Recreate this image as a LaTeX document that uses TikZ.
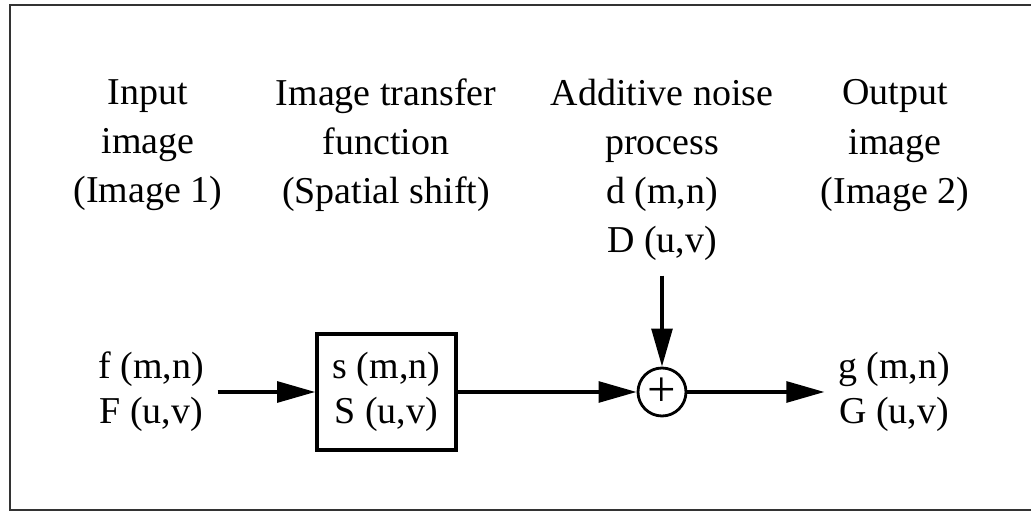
\documentclass[tikz,border=0pt]{standalone}
\usepackage{fontspec}
\setmainfont{Liberation Serif}
\usetikzlibrary{arrows.meta}

\begin{document}
\begin{tikzpicture}[>={Triangle[length=0.95cm, width=0.52cm]}, line width=2.4pt,
  head/.style={font=\fontsize{27}{34.9}\selectfont, align=center, inner sep=0.33cm},
  sig/.style={font=\fontsize{27}{32}\selectfont, align=center, inner sep=0.3cm}]
  \useasboundingbox (0,0) rectangle (25.775,12.8);
  % Frame, open on the right
  \draw[line width=1.5pt, black!80] (25.775,12.675) -- (0.25,12.675) -- (0.25,0.05) -- (25.775,0.05);

  % Column headings
  \node[head] (hin) at (3.7,9.16) {Input\\image\\(Image 1)};
  \node[head] (htf) at (9.65,9.16) {Image transfer\\function\\(Spatial shift)};
  \node[head] (hnoise) at (16.55,8.55) {Additive noise\\process\\d (m,n)\\D (u,v)};
  \node[head] (hout) at (22.38,9.16) {Output\\image\\(Image 2)};

  % Signal chain
  \node[sig] (fin) at (3.78,3) {f (m,n)\\F (u,v)};
  \node[sig, draw, minimum width=3.475cm, minimum height=2.9cm, inner sep=0] (shift) at (9.66,3) {s (m,n)\\S (u,v)};
  \node[draw, circle, line width=2pt, minimum size=1.2cm, inner sep=0, font=\fontsize{36}{36}\selectfont] (sum) at (16.55,3) {+};
  \node[sig] (gout) at (22.35,3) {g (m,n)\\G (u,v)};

  % Arrows
  \draw[->] (fin) -- (shift);
  \draw[->] (shift) -- (sum);
  \draw[->] (hnoise) -- (sum);
  \draw[->] (sum) -- (gout);
\end{tikzpicture}
\end{document}
